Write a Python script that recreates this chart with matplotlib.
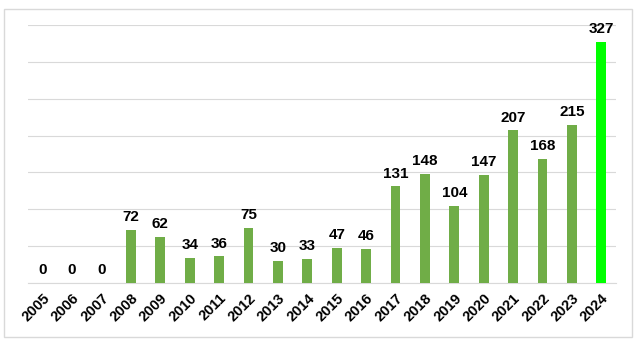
import matplotlib.pyplot as plt
from matplotlib.patches import Rectangle

years = [str(y) for y in range(2005, 2025)]
counts = [0, 0, 0, 72, 62, 34, 36, 75, 30, 33, 47, 46, 131, 148, 104, 147, 207, 168, 215, 327]

bar_color = "#70AD47"
last_color = "#00FF00"

plt.rcParams["font.family"] = ["Liberation Sans", "DejaVu Sans"]

fig = plt.figure(figsize=(6.43, 3.44), dpi=100)
ax = fig.add_axes([28 / 643, 1 - 283 / 344, 588 / 643, 258 / 344])

colors = [bar_color] * (len(years) - 1) + [last_color]
x = range(len(years))
bars = ax.bar(x, counts, width=0.33, color=colors, zorder=3)

for rect, v in zip(bars, counts):
    ax.text(rect.get_x() + rect.get_width() / 2, v + 8, str(v),
            ha="center", va="bottom", fontsize=11, fontweight="bold", zorder=4)

ax.set_xlim(-0.5, len(years) - 0.5)
ax.set_ylim(0, 350)
ax.set_yticks(range(0, 351, 50))
ax.yaxis.grid(True, color="#D9D9D9", linewidth=0.8, zorder=0)
ax.tick_params(axis="y", left=False, labelleft=False)
ax.tick_params(axis="x", length=0, pad=6)
ax.set_xticks(list(x))
ax.set_xticklabels(years, rotation=45, ha="right", rotation_mode="anchor",
                   fontsize=10.5, fontweight="bold")
for s in ["top", "right", "left"]:
    ax.spines[s].set_visible(False)
ax.spines["bottom"].set_color("#D9D9D9")

# outer chart border
fig.patches.append(Rectangle((4 / 643, 1 - 337 / 344), 628 / 643, 328 / 344,
                             transform=fig.transFigure, fill=False,
                             edgecolor="#D9D9D9", linewidth=1))

fig.savefig("out.png", dpi=100)
